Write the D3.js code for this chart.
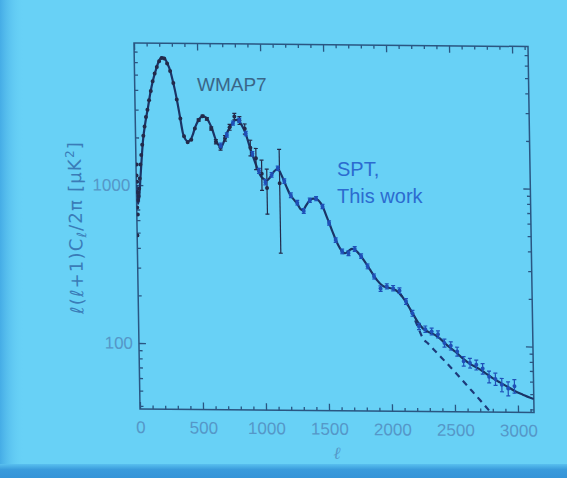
<!DOCTYPE html>
<html>
<head>
<meta charset="utf-8">
<script src="https://cdnjs.cloudflare.com/ajax/libs/d3/7.8.5/d3.min.js"></script>
<style>
body { margin:0; background:#68d1f6; overflow:hidden; }
</style>
</head>
<body>
<div id="graph"></div>
<script>
// WMAP7 band powers
var wmapL = [2,3,4,5,6,7,8,10,13,17,22,28,35,43,52,62,73,85,98,112,127,143,160,178,197,217,238,260,283,307,332,358,385,413,442,472,503,535,568,602,637,673,710,748,787,827,868,910,953,997,1037,1138];
var wmapD = [480,1150,720,1350,900,1050,650,800,900,850,950,1100,1350,1550,1800,2050,2350,2700,3000,3450,3950,4550,5100,5600,6100,6400,6350,5900,5300,4450,3500,2650,2050,1880,1950,2300,2600,2750,2650,2300,1900,1750,2000,2350,2750,2600,2300,1750,1500,1200,973,1046];
var wmapE = [0,0,0,0,0,0,0,0,0,0,0,0,0,0,0,0,0,0,0,0,0,0,0,0,0,0,0,0,0,0,0,0,0,0,0,0,40,45,50,55,60,70,80,100,130,150,170,200,230,260,308,669];

// SPT band powers
var sptL = [675,725,775,825,875,925,975,1025,1075,1125,1175,1225,1275,1325,1375,1425,1475,1525,1575,1625,1675,1725,1775,1825,1875,1925,1975,2025,2075,2125,2175,2225,2275,2325,2375,2425,2475,2525,2575,2625,2675,2725,2775,2825,2875,2925,2975];
var sptD = [1800,2100,2500,2600,2150,1600,1250,1060,1180,1300,1080,880,790,700,820,840,750,590,460,390,380,405,365,315,272,228,236,230,222,190,160,132,127,123,118,104,100,92,80,78,76,72,64,62,57,54,56];
var sptE = [60,65,75,80,70,55,45,40,40,42,36,30,27,24,26,26,24,19,15,13,13,14,12,11,10,9,9,9,9,8,7,6,6,6,6,6,6,6,5.5,5.5,5.5,5.5,5.5,5.5,5.5,5.5,5.5];

// model: CMB + foregrounds (solid)
var theoryL = [2,10,20,35,59,80,103,125,146,168,188,205,221,240,260,283,300,319,338,356,377,395,415,435,455,473,500,530,550,570,590,608,630,650,677,700,725,751,780,800,820,845,870,890,907,925,945,965,983,1010,1038,1060,1087,1110,1127,1145,1165,1190,1218,1245,1273,1300,1320,1345,1370,1400,1433,1472,1509,1547,1593,1620,1648,1680,1704,1743,1790,1844,1898,1940,1980,2020,2064,2118,2172,2218,2257,2300,2350,2391,2445,2508,2570,2625,2680,2740,2800,2860,2920,2980,3040,3127];
var theoryD = [1000,760,820,1150,1927,2500,3115,3900,4620,5300,5916,6300,6457,6380,5950,5343,4700,3993,3300,2694,2134,1960,1900,1940,2100,2328,2580,2733,2740,2655,2480,2295,2020,1850,1760,1900,2150,2350,2560,2620,2580,2420,2200,1950,1750,1580,1420,1280,1180,1110,1090,1130,1220,1270,1280,1220,1120,1000,890,830,780,720,710,760,810,840,830,760,640,530,430,395,380,395,405,390,350,300,258,238,232,228,218,192,162,140,128,122,117,111,101,92,83,77,73,68,63,59,55.5,52,49.5,46.5];

// model: CMB only (dashed)
var cmbL = [2064,2118,2172,2218,2250,2300,2400,2500,2600,2700,2790];
var cmbD = [218,192,160,130,113,102,84,69,56,45.5,37.5];

var xMajor = [0,500,1000,1500,2000,2500,3000];
var xMinor = [100,200,300,400,600,700,800,900,1100,1200,1300,1400,1600,1700,1800,1900,2100,2200,2300,2400,2600,2700,2800,2900,3100];
var yMajor = [100,1000];
var yMinor = [40,50,60,70,80,90,200,300,400,500,600,700,800,900,2000,3000,4000,5000,6000,7000];

var W = 567, H = 478;
var svg = d3.select("#graph").append("svg")
	.attr("width", W)
	.attr("height", H);

// screen background, a bit darker on the edges
var defs = svg.append("defs");
var lg = defs.append("linearGradient").attr("id", "leftEdge");
lg.append("stop").attr("offset", "0").attr("stop-color", "#45ace6");
lg.append("stop").attr("offset", "1").attr("stop-color", "#68d1f6").attr("stop-opacity", 0);
var bg = defs.append("linearGradient").attr("id", "bottomEdge")
	.attr("x1", 0).attr("y1", 0).attr("x2", 0).attr("y2", 1);
bg.append("stop").attr("offset", "0").attr("stop-color", "#58c0ef");
bg.append("stop").attr("offset", "0.4").attr("stop-color", "#3a9bdc");
bg.append("stop").attr("offset", "1").attr("stop-color", "#3594d8");

svg.append("rect").attr("width", W).attr("height", H).attr("fill", "#68d1f6");
svg.append("rect").attr("width", 24).attr("height", H).attr("fill", "url(#leftEdge)");
svg.append("rect").attr("y", 464).attr("width", W).attr("height", 14).attr("fill", "url(#bottomEdge)");

// plot area (slightly skewed like the photo)
var pw = 394, ph = 366;
var g = svg.append("g").attr("transform", "matrix(1,0.009,0.0165,1,134,43)");

var x = d3.scaleLinear().domain([0, 3127]).range([0, pw]);
var y = d3.scaleLog().domain([38.2, 7925]).range([ph, 0]);

var axisCol = "#2a5682", labCol = "#5597c8";

function styleAxis(sel) {
	sel.select(".domain").remove();
	sel.selectAll("line").attr("stroke", axisCol).attr("stroke-width", 1.3);
	sel.selectAll("text")
		.attr("fill", labCol)
		.style("font-family", "'Liberation Sans', Arial, sans-serif")
		.style("font-size", "17px");
}

// bottom
g.append("g").attr("transform", "translate(0," + ph + ")")
	.call(d3.axisBottom(x).tickValues(xMajor).tickSize(-7).tickPadding(12).tickFormat(d3.format("d")))
	.call(styleAxis);
g.append("g").attr("transform", "translate(0," + ph + ")")
	.call(d3.axisBottom(x).tickValues(xMinor).tickSize(-3.5).tickFormat(""))
	.call(styleAxis);
// top
g.append("g")
	.call(d3.axisTop(x).tickValues(xMajor).tickSize(-7).tickFormat(""))
	.call(styleAxis);
g.append("g")
	.call(d3.axisTop(x).tickValues(xMinor).tickSize(-3.5).tickFormat(""))
	.call(styleAxis);
// left
g.append("g")
	.call(d3.axisLeft(y).tickValues(yMajor).tickSize(-7).tickPadding(6).tickFormat(d3.format("d")))
	.call(styleAxis);
g.append("g")
	.call(d3.axisLeft(y).tickValues(yMinor).tickSize(-3.5).tickFormat(""))
	.call(styleAxis);
// right
g.append("g").attr("transform", "translate(" + pw + ",0)")
	.call(d3.axisRight(y).tickValues(yMajor).tickSize(-7).tickFormat(""))
	.call(styleAxis);
g.append("g").attr("transform", "translate(" + pw + ",0)")
	.call(d3.axisRight(y).tickValues(yMinor).tickSize(-3.5).tickFormat(""))
	.call(styleAxis);

g.append("rect")
	.attr("width", pw).attr("height", ph)
	.attr("fill", "none").attr("stroke", axisCol).attr("stroke-width", 1.5);

// curves
var clip = defs.append("clipPath").attr("id", "plotClip");
clip.append("rect").attr("width", pw).attr("height", ph);
var plot = g.append("g").attr("clip-path", "url(#plotClip)");

var line = d3.line()
	.x(function(d) { return x(d[0]); })
	.y(function(d) { return y(d[1]); })
	.curve(d3.curveMonotoneX);

plot.append("path")
	.datum(cmbL.map(function(l, i) { return [l, cmbD[i]]; }))
	.attr("d", line)
	.attr("fill", "none")
	.attr("stroke", "#1d3a7a")
	.attr("stroke-width", 2.2)
	.attr("stroke-dasharray", "6,5");

plot.append("path")
	.datum(theoryL.map(function(l, i) { return [l, theoryD[i]]; }))
	.attr("d", line)
	.attr("fill", "none")
	.attr("stroke", "#1a3466")
	.attr("stroke-width", 2.2);

// data points with error bars
function drawPoints(L, D, E, col, r) {
	var pts = L.map(function(l, i) { return {l: l, d: D[i], e: E[i]}; });
	var grp = plot.append("g");
	var withErr = pts.filter(function(p) { return p.e > 0; });
	grp.selectAll(".eb").data(withErr).enter().append("line")
		.attr("x1", function(p) { return x(p.l); })
		.attr("x2", function(p) { return x(p.l); })
		.attr("y1", function(p) { return y(p.d - p.e); })
		.attr("y2", function(p) { return y(p.d + p.e); })
		.attr("stroke", col).attr("stroke-width", 1.2);
	grp.selectAll(".cap1").data(withErr).enter().append("line")
		.attr("x1", function(p) { return x(p.l) - 2; })
		.attr("x2", function(p) { return x(p.l) + 2; })
		.attr("y1", function(p) { return y(p.d + p.e); })
		.attr("y2", function(p) { return y(p.d + p.e); })
		.attr("stroke", col).attr("stroke-width", 1.2);
	grp.selectAll(".cap2").data(withErr).enter().append("line")
		.attr("x1", function(p) { return x(p.l) - 2; })
		.attr("x2", function(p) { return x(p.l) + 2; })
		.attr("y1", function(p) { return y(p.d - p.e); })
		.attr("y2", function(p) { return y(p.d - p.e); })
		.attr("stroke", col).attr("stroke-width", 1.2);
	grp.selectAll("circle").data(pts).enter().append("circle")
		.attr("cx", function(p) { return x(p.l); })
		.attr("cy", function(p) { return y(p.d); })
		.attr("r", r)
		.attr("fill", col);
}
drawPoints(wmapL, wmapD, wmapE, "#232a4a", 2);
drawPoints(sptL, sptD, sptE, "#1f50b8", 2);

// axis titles
g.append("text")
	.attr("transform", "translate(-55,185) rotate(-90)")
	.attr("text-anchor", "middle")
	.attr("fill", "#3a7cb8")
	.style("font-family", "'DejaVu Sans', sans-serif")
	.style("font-size", "18px")
	.style("letter-spacing", "1.2px")
	.html("<tspan font-style='italic'>ℓ</tspan>(<tspan font-style='italic'>ℓ</tspan>+1)C<tspan dy='4' font-size='13' font-style='italic'>ℓ</tspan><tspan dy='-4'>/2π [μK</tspan><tspan dy='-7' font-size='12'>2</tspan><tspan dy='7'>]</tspan>");

svg.append("text")
	.attr("x", 337).attr("y", 459)
	.attr("text-anchor", "middle")
	.attr("fill", labCol)
	.style("font-family", "'DejaVu Serif', serif")
	.style("font-style", "italic")
	.style("font-size", "17px")
	.text("ℓ");

// labels
svg.append("text")
	.attr("x", 197).attr("y", 91)
	.attr("fill", "#3a6688")
	.style("font-family", "'Liberation Sans', Arial, sans-serif")
	.style("font-size", "19px")
	.text("WMAP7");
svg.append("text")
	.attr("x", 337).attr("y", 176)
	.attr("fill", "#2c6bd0")
	.style("font-family", "'Liberation Sans', Arial, sans-serif")
	.style("font-size", "20px")
	.text("SPT,");
svg.append("text")
	.attr("x", 337).attr("y", 203)
	.attr("fill", "#2c6bd0")
	.style("font-family", "'Liberation Sans', Arial, sans-serif")
	.style("font-size", "20px")
	.text("This work");
</script>
</body>
</html>
